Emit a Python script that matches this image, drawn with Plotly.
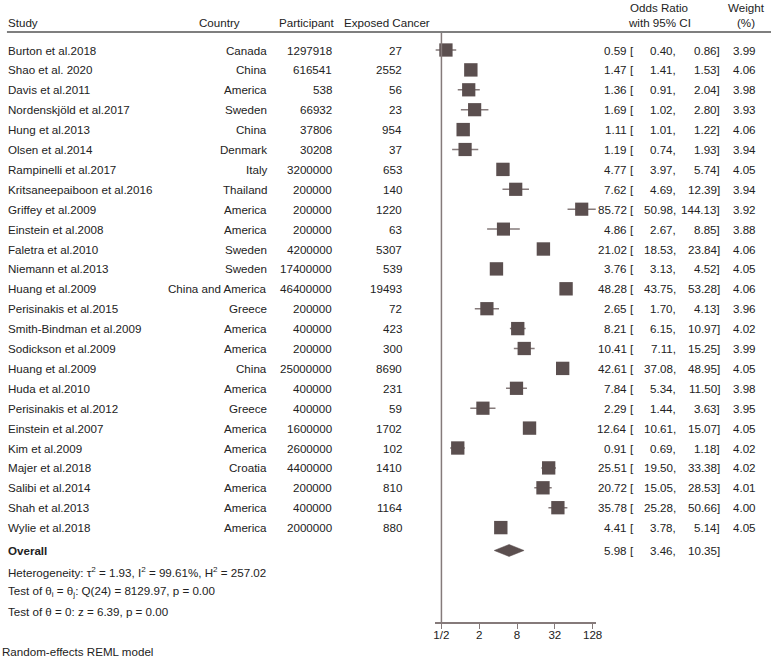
import plotly.graph_objects as go
import math

# ---------------- data ----------------
studies = ["Burton et al.2018", "Shao et al. 2020", "Davis et al.2011", "Nordenskjöld et al.2017",
           "Hung et al.2013", "Olsen et al.2014", "Rampinelli et al.2017", "Kritsaneepaiboon et al.2016",
           "Griffey et al.2009", "Einstein et al.2008", "Faletra et al.2010", "Niemann et al.2013",
           "Huang et al.2009", "Perisinakis et al.2015", "Smith-Bindman et al.2009", "Sodickson et al.2009",
           "Huang et al.2009", "Huda et al.2010", "Perisinakis et al.2012", "Einstein et al.2007",
           "Kim et al.2009", "Majer et al.2018", "Salibi et al.2014", "Shah et al.2013", "Wylie et al.2018"]
countries = ["Canada", "China", "America", "Sweden", "China", "Denmark", "Italy", "Thailand",
             "America", "America", "Sweden", "Sweden", "China and America", "Greece", "America", "America",
             "China", "America", "Greece", "America", "America", "Croatia", "America", "America", "America"]
participants = [1297918, 616541, 538, 66932, 37806, 30208, 3200000, 200000, 200000, 200000, 4200000,
                17400000, 46400000, 200000, 400000, 200000, 25000000, 400000, 400000, 1600000, 2600000,
                4400000, 200000, 400000, 2000000]
exposed = [27, 2552, 56, 23, 954, 37, 653, 140, 1220, 63, 5307, 539, 19493, 72, 423, 300, 8690, 231,
           59, 1702, 102, 1410, 810, 1164, 880]
or_est = [0.59, 1.47, 1.36, 1.69, 1.11, 1.19, 4.77, 7.62, 85.72, 4.86, 21.02, 3.76, 48.28, 2.65, 8.21,
          10.41, 42.61, 7.84, 2.29, 12.64, 0.91, 25.51, 20.72, 35.78, 4.41]
or_lo = [0.40, 1.41, 0.91, 1.02, 1.01, 0.74, 3.97, 4.69, 50.98, 2.67, 18.53, 3.13, 43.75, 1.70, 6.15,
         7.11, 37.08, 5.34, 1.44, 10.61, 0.69, 19.50, 15.05, 25.28, 3.78]
or_hi = [0.86, 1.53, 2.04, 2.80, 1.22, 1.93, 5.74, 12.39, 144.13, 8.85, 23.84, 4.52, 53.28, 4.13, 10.97,
         15.25, 48.95, 11.50, 3.63, 15.07, 1.18, 33.38, 28.53, 50.66, 5.14]
weights = [3.99, 4.06, 3.98, 3.93, 4.06, 3.94, 4.05, 3.94, 3.92, 3.88, 4.06, 4.05, 4.06, 3.96, 4.02,
           3.99, 4.05, 3.98, 3.95, 4.05, 4.02, 4.02, 4.01, 4.00, 4.05]
overall = [5.98, 3.46, 10.35]  # estimate, lower, upper
tick_vals = [0.5, 2, 8, 32, 128]
tick_text = ["1/2", "2", "8", "32", "128"]
het_lines = ["Heterogeneity: τ<sup>2</sup> = 1.93, I<sup>2</sup> = 99.61%, H<sup>2</sup> = 257.02",
             "Test of θ<sub>i</sub> = θ<sub>j</sub>: Q(24) = 8129.97, p = 0.00",
             "Test of θ = 0: z = 6.39, p = 0.00"]
footnote = "Random-effects REML model"

# ---------------- layout constants ----------------
W, H = 777, 660
FONT = "Liberation Sans, Arial, sans-serif"
FS = 11.6
TXT = "#222222"
SQ = "#5b4f4f"
LN = "#857a7a"
ROW0, DY = 50.0, 19.9        # pixel of first row, row spacing
def px2row(p):
    return (p - ROW0) / DY
def px(x):
    return x / W

n = len(studies)
rows = list(range(n))
overall_row = 25.15

fig = go.Figure()

# CI lines
xs, ys = [], []
for i in rows:
    xs += [or_lo[i], or_hi[i], None]
    ys += [i, i, None]
fig.add_trace(go.Scatter(x=xs, y=ys, mode="lines", line=dict(color=LN, width=1.5),
                         hoverinfo="skip", showlegend=False, cliponaxis=False))
# squares
sizes = [13.4 * math.sqrt(w / 4.06) for w in weights]
fig.add_trace(go.Scatter(x=or_est, y=rows, mode="markers",
                         marker=dict(symbol="square", size=sizes, color=SQ, opacity=1, line=dict(width=0)),
                         showlegend=False, cliponaxis=False))
# overall diamond
h = 6.0 / DY
fig.add_trace(go.Scatter(x=[overall[1], overall[0], overall[2], overall[0], overall[1]],
                         y=[overall_row, overall_row - h, overall_row, overall_row + h, overall_row],
                         mode="lines", fill="toself", fillcolor=SQ, line=dict(color=SQ, width=0.5),
                         showlegend=False, hoverinfo="skip"))

ann = []
def add(text, x, row, anchor, bold=False):
    ann.append(dict(text=("<b>%s</b>" % text) if bold else text, x=px(x), y=row, xref="paper", yref="y",
                    xanchor=anchor, yanchor="middle", showarrow=False, borderpad=0, borderwidth=0,
                    font=dict(family=FONT, size=FS, color=TXT)))

# headers
hr = px2row(22)
add("Study", 6, hr, "left")
add("Country", 199, hr, "left")
add("Participant", 280, hr, "left")
add("Exposed Cancer", 346, hr, "left")
add("Odds Ratio", 664, px2row(7), "center")
add("with 95% CI", 664, hr, "center")
add("Weight", 752, px2row(7), "center")
add("(%)", 752, hr, "center")

for i in rows:
    add(studies[i], 6, i, "left")
    add(countries[i], 268, i, "right")
    add(str(participants[i]), 333, i, "right")
    add(str(exposed[i]), 404, i, "right")
    add("%.2f" % or_est[i], 631, i, "right")
    add("[", 635, i, "left")
    add("%.2f," % or_lo[i], 681, i, "right")
    add("%.2f]" % or_hi[i], 725, i, "right")
    add("%.2f" % weights[i], 762, i, "right")

add("Overall", 6, overall_row, "left", bold=True)
add("%.2f" % overall[0], 631, overall_row, "right")
add("[", 635, overall_row, "left")
add("%.2f," % overall[1], 681, overall_row, "right")
add("%.2f]" % overall[2], 725, overall_row, "right")

for k, t in enumerate(het_lines):
    add(t, 6, px2row(571.5 + 20 * k), "left")
add(footnote, 0, px2row(651), "left")

# lines: header rule and reference line
shapes = [
    dict(type="line", xref="paper", yref="y", x0=px(5), x1=px(777), y0=px2row(32), y1=px2row(32),
         line=dict(color="#555555", width=1.5)),
    dict(type="line", xref="x", yref="y", x0=0.5, x1=0.5, y0=px2row(33), y1=px2row(623),
         line=dict(color=LN, width=1.5)),
]

AX_Y = 623
lo_log2 = -1 + (438 - 444) / 19.1
hi_log2 = -1 + (600 - 444) / 19.1
fig.update_layout(
    width=W, height=H, margin=dict(l=0, r=0, t=0, b=0),
    paper_bgcolor="white", plot_bgcolor="rgba(0,0,0,0)",
    annotations=ann, shapes=shapes, showlegend=False,
    xaxis=dict(type="log", domain=[px(438), px(600)], range=[lo_log2 * math.log10(2), hi_log2 * math.log10(2)],
               anchor="free", position=(H - AX_Y) / H, showgrid=False, zeroline=False,
               showline=True, linecolor=LN, linewidth=1.5, ticks="outside", ticklen=5, tickwidth=1.2,
               tickcolor=LN, tickvals=tick_vals, ticktext=tick_text, ticklabelstandoff=-4,
               tickfont=dict(family=FONT, size=FS, color=TXT)),
    yaxis=dict(domain=[0, 1], range=[px2row(H), px2row(0)], visible=False, showgrid=False, zeroline=False),
)

fig.write_html("out.html", config={"displayModeBar": False},
               post_script="document.body.style.margin='0';document.body.style.overflow='hidden';")
